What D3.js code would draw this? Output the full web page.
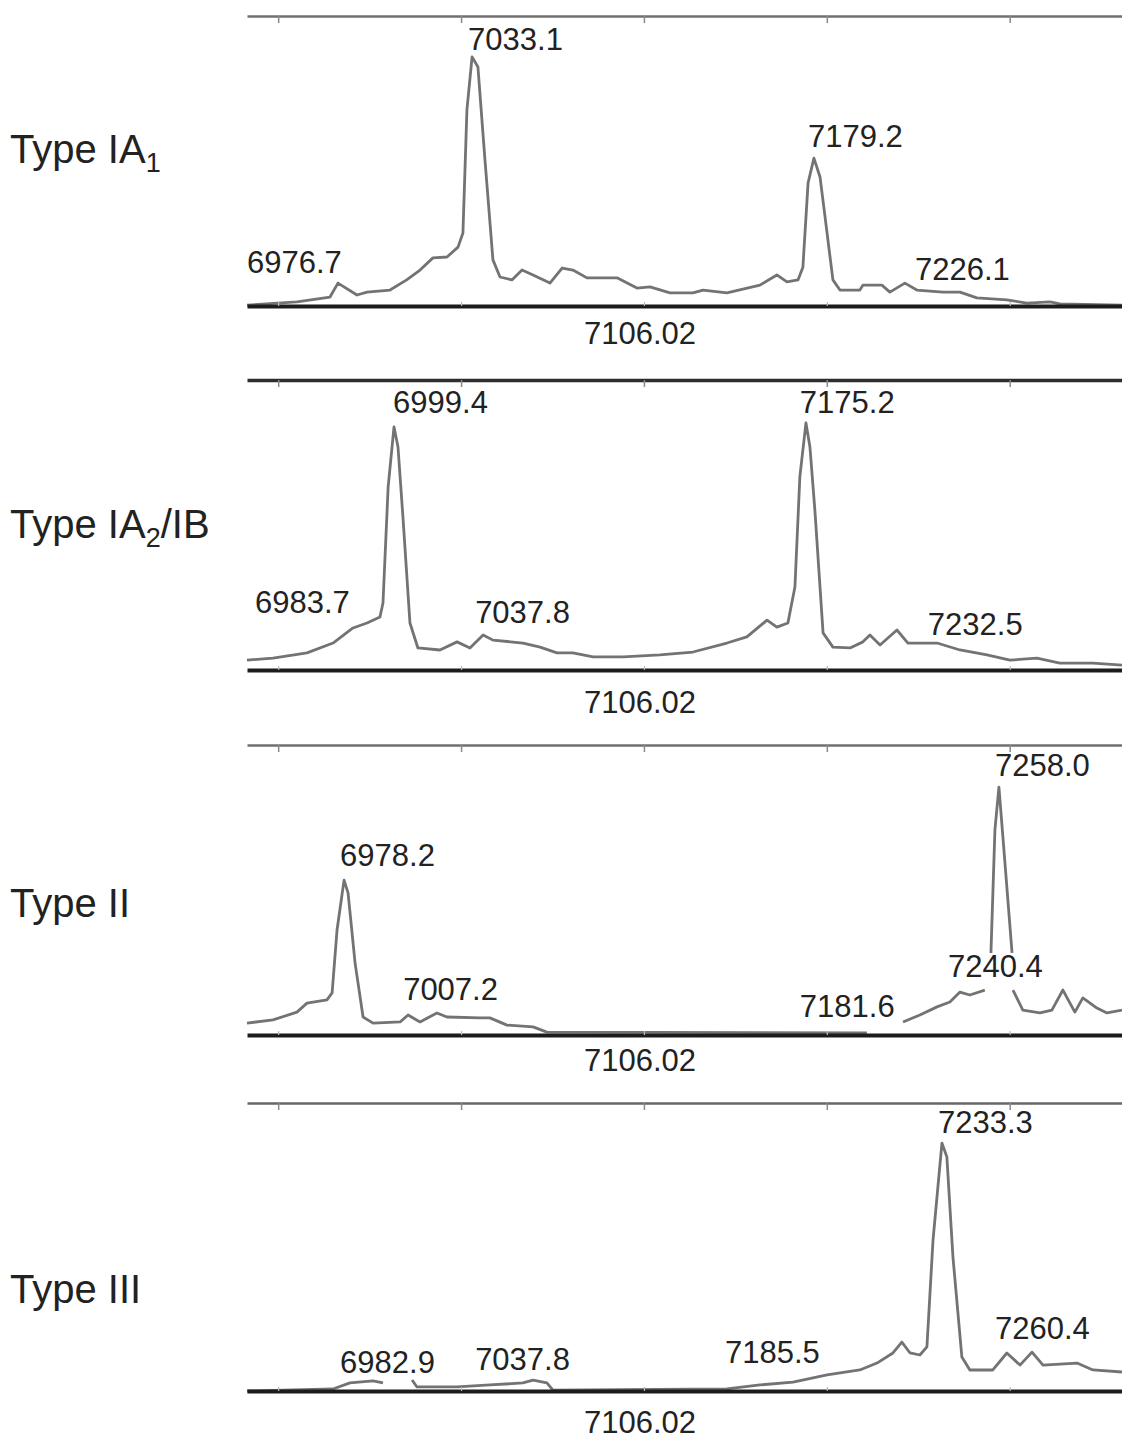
<!DOCTYPE html>
<html>
<head>
<meta charset="utf-8">
<script src="https://cdn.jsdelivr.net/npm/d3@7"></script>
<style>
  body { margin: 0; background: #fff; }
  svg { display: block; font-family: "Liberation Sans", Arial, Helvetica, sans-serif; }
</style>
</head>
<body>
<div id="chart"></div>
<script>
// m/z window shared by all four spectra
const massDomain = [6936.7, 7309.9];
const tickMasses = [6950, 7028, 7106, 7184, 7262];
const refMass = 7106.02;

// panel names: [main, subscript, tail]
const typeNames = [
  ["Type IA", "1", ""],
  ["Type IA", "2", "/IB"],
  ["Type II", "", ""],
  ["Type III", "", ""]
];

// spectra: [m/z, relative intensity 0-100], null = gap in trace
const specIA1 = [
  [6936.7, 0.3], [6958.0, 1.4], [6972.1, 3.1], [6975.5, 7.9], [6983.6, 3.8], [6987.9, 4.8],
  [6997.7, 5.5], [7004.8, 9.0], [7010.5, 12.4], [7016.0, 16.6], [7022.0, 16.9], [7026.7, 20.3],
  [7028.8, 25.2], [7030.5, 67.6], [7032.7, 85.9], [7035.2, 82.4], [7038.2, 50.3], [7041.6, 15.9],
  [7044.6, 10.0], [7049.7, 9.0], [7054.0, 12.4], [7058.7, 10.7], [7065.9, 7.9], [7071.1, 13.1],
  [7075.7, 12.4], [7081.7, 9.7], [7094.5, 9.7], [7103.0, 6.2], [7108.6, 6.6], [7117.1, 4.5],
  [7126.9, 4.5], [7131.2, 5.5], [7141.4, 4.5], [7155.5, 7.2], [7162.7, 10.7], [7167.0, 8.3],
  [7171.7, 9.0], [7173.8, 13.4], [7176.0, 42.4], [7178.5, 51.0], [7181.1, 44.5], [7184.1, 25.2],
  [7186.6, 9.0], [7189.6, 5.5], [7198.1, 5.5], [7199.4, 7.2], [7207.5, 7.2], [7210.9, 4.8],
  [7217.3, 7.9], [7222.4, 5.5], [7233.5, 4.8], [7240.8, 4.8], [7248.0, 2.8], [7260.8, 2.1],
  [7269.3, 1.0], [7279.2, 1.4], [7283.4, 0.7], [7309.9, 0.3]
];

const specIA2 = [
  [6936.7, 3.4], [6947.8, 4.1], [6962.3, 5.9], [6973.4, 9.3], [6981.9, 14.5], [6987.9, 16.2],
  [6993.4, 18.3], [6994.7, 23.1], [6996.9, 63.1], [6999.4, 83.8], [7001.1, 76.9], [7003.3, 51.7],
  [7006.2, 16.2], [7009.6, 7.6], [7019.0, 6.9], [7026.3, 9.7], [7031.8, 7.6], [7037.4, 12.1],
  [7041.6, 10.3], [7054.4, 9.3], [7061.7, 7.9], [7068.9, 5.9], [7075.7, 5.9], [7084.3, 4.5],
  [7097.1, 4.5], [7112.8, 5.2], [7126.9, 6.2], [7141.4, 9.3], [7149.9, 11.4], [7158.5, 17.2],
  [7162.7, 14.8], [7167.4, 16.2], [7170.4, 28.6], [7172.5, 66.6], [7175.1, 85.2], [7176.8, 76.9],
  [7178.9, 55.2], [7182.4, 12.8], [7186.6, 7.9], [7193.9, 7.6], [7199.4, 9.7], [7202.4, 12.1],
  [7206.7, 8.6], [7213.9, 13.8], [7218.6, 9.3], [7231.0, 9.3], [7240.8, 6.9], [7252.3, 5.2],
  [7262.1, 3.4], [7273.6, 4.1], [7283.4, 2.4], [7297.5, 2.4], [7309.9, 1.7]
];

const specII = [
  [6936.7, 4.1], [6947.8, 5.2], [6958.0, 7.9], [6962.3, 11.0], [6970.8, 12.1], [6973.0, 14.5],
  [6975.1, 36.2], [6978.1, 53.4], [6979.8, 49.0], [6982.8, 24.8], [6986.2, 6.2], [6990.5, 4.1],
  [7002.0, 4.5], [7005.4, 6.9], [7010.5, 4.5], [7017.7, 7.6], [7022.0, 6.2], [7036.1, 5.9],
  [7040.3, 5.9], [7047.6, 3.4], [7058.7, 2.8], [7064.6, 1.0], [7201.1, 0.7], [7208.0, null],
  [7216.5, 4.5], [7223.7, 6.9], [7231.0, 9.7], [7236.5, 11.4], [7240.8, 14.8], [7245.0, 13.8],
  [7251.4, 15.5], [7252.5, null], [7254.0, 28.3], [7255.7, 70.7], [7257.4, 85.5], [7259.1, 68.3],
  [7263.0, 28.3], [7263.2, null], [7263.4, 15.5], [7267.6, 8.6], [7274.9, 7.6], [7280.0, 8.6],
  [7284.7, 15.5], [7289.8, 7.9], [7293.2, 12.8], [7299.2, 9.3], [7303.5, 7.6], [7309.9, 8.6]
];

const specIII = [
  [6936.7, 0.0], [6973.4, 0.7], [6980.6, 2.8], [6990.5, 3.5], [6994.7, 2.8], [7000.0, null],
  [7007.1, 3.8], [7009.2, 1.4], [7026.3, 1.4], [7040.3, 2.1], [7054.4, 2.8], [7058.7, 3.8],
  [7064.6, 2.8], [7067.2, 0.3], [7141.4, 0.7], [7155.5, 2.1], [7169.6, 3.1], [7184.1, 5.6],
  [7198.1, 7.3], [7205.4, 9.7], [7212.2, 13.2], [7216.0, 17.0], [7219.5, 13.2], [7223.7, 12.5],
  [7226.7, 15.3], [7229.3, 52.4], [7233.1, 86.1], [7235.2, 81.3], [7237.8, 46.5], [7241.6, 11.8],
  [7245.0, 7.3], [7254.8, 7.3], [7260.8, 13.2], [7266.4, 9.0], [7271.5, 13.5], [7276.2, 9.0],
  [7290.7, 9.7], [7297.5, 7.3], [7309.9, 6.6]
];

// peak labels: [text, m/z at label start, intensity at label baseline]
const labelsIA1 = [["7033.1", 7031.0, 88.3], ["7179.2", 7176.0, 54.8], ["6976.7", 6936.7, 11.4], ["7226.1", 7221.6, 9.0]];
const labelsIA2 = [["6999.4", 6999.0, 88.6], ["7175.2", 7172.5, 88.6], ["6983.7", 6940.1, 19.7], ["7037.8", 7034.0, 16.2], ["7232.5", 7227.1, 12.1]];
const labelsII = [["6978.2", 6976.4, 58.3], ["7007.2", 7003.3, 12.1], ["7258.0", 7255.7, 89.3], ["7240.4", 7235.7, 20.0], ["7181.6", 7172.5, 6.2]];
const labelsIII = [["7233.3", 7231.4, 89.6], ["7260.4", 7255.7, 18.1], ["7185.5", 7140.6, 9.7], ["6982.9", 6976.4, 6.3], ["7037.8", 7034.0, 7.3]];

const spectra = [specIA1, specIA2, specII, specIII];
const peakLabels = [labelsIA1, labelsIA2, labelsII, labelsIII];

(function() {
  const width = 1122;
  const height = 1440;
  const plotLeft = 247;
  const plotRight = 1122;
  const panelTop = [16, 380, 745, 1103];
  const panelBase = [306, 670, 1035, 1391];
  const refLabelY = [344, 713, 1071, 1433];
  const typeLabelY = [163, 538, 917, 1303];
  const topStroke = ["#707070", "#2e2e2e", "#707070", "#666"];
  const topWidth = [2.5, 3.5, 2.5, 2.5];

  const svg = d3.select("#chart")
    .append("svg")
    .attr("width", width)
    .attr("height", height);

  svg.append("rect").attr("width", width).attr("height", height).attr("fill", "#fff");

  const x = d3.scaleLinear().domain(massDomain).range([plotLeft, plotRight]);

  spectra.forEach((spec, i) => {
    const y = d3.scaleLinear().domain([0, 100]).range([panelBase[i], panelTop[i]]);
    const g = svg.append("g");

    // top frame line with ticks pointing down
    g.append("g")
      .attr("transform", `translate(0,${panelTop[i]})`)
      .call(d3.axisBottom(x).tickValues(tickMasses).tickSize(7).tickSizeOuter(0).tickFormat(""))
      .call(a => a.select(".domain").attr("stroke", topStroke[i]).attr("stroke-width", topWidth[i]))
      .call(a => a.selectAll(".tick line").attr("stroke", "#8a8a8a").attr("stroke-width", 1.5));

    // spectrum trace
    const line = d3.line()
      .defined(d => d[1] !== null)
      .x(d => x(d[0]))
      .y(d => y(d[1]));

    g.append("path")
      .datum(spec)
      .attr("d", line)
      .attr("fill", "none")
      .attr("stroke", "#737373")
      .attr("stroke-width", 2.8)
      .attr("stroke-linejoin", "round");

    // thick baseline with faint ticks
    g.append("g")
      .attr("transform", `translate(0,${panelBase[i]})`)
      .call(d3.axisTop(x).tickValues(tickMasses).tickSize(4).tickSizeOuter(0).tickFormat(""))
      .call(a => a.select(".domain").attr("stroke", "#1c1c1c").attr("stroke-width", 4))
      .call(a => a.selectAll(".tick line").attr("stroke", "#bbb").attr("stroke-width", 1.2));

    // peak labels
    g.selectAll(".peak-label")
      .data(peakLabels[i])
      .join("text")
      .attr("class", "peak-label")
      .attr("x", d => x(d[1]))
      .attr("y", d => y(d[2]))
      .attr("font-size", "31px")
      .attr("fill", "#222")
      .text(d => d[0]);

    // reference mass under baseline
    g.append("text")
      .attr("x", x(refMass) - 4)
      .attr("y", refLabelY[i])
      .attr("text-anchor", "middle")
      .attr("font-size", "31px")
      .attr("fill", "#222")
      .text(refMass.toFixed(2));

    // type name on the left
    const t = g.append("text")
      .attr("x", 10)
      .attr("y", typeLabelY[i])
      .attr("font-size", "40px")
      .attr("fill", "#222");
    t.append("tspan").text(typeNames[i][0]);
    if (typeNames[i][1]) {
      t.append("tspan").attr("font-size", "27px").attr("dy", 9).text(typeNames[i][1]);
    }
    if (typeNames[i][2]) {
      t.append("tspan").attr("dy", -9).text(typeNames[i][2]);
    }
  });
})();
</script>
</body>
</html>
